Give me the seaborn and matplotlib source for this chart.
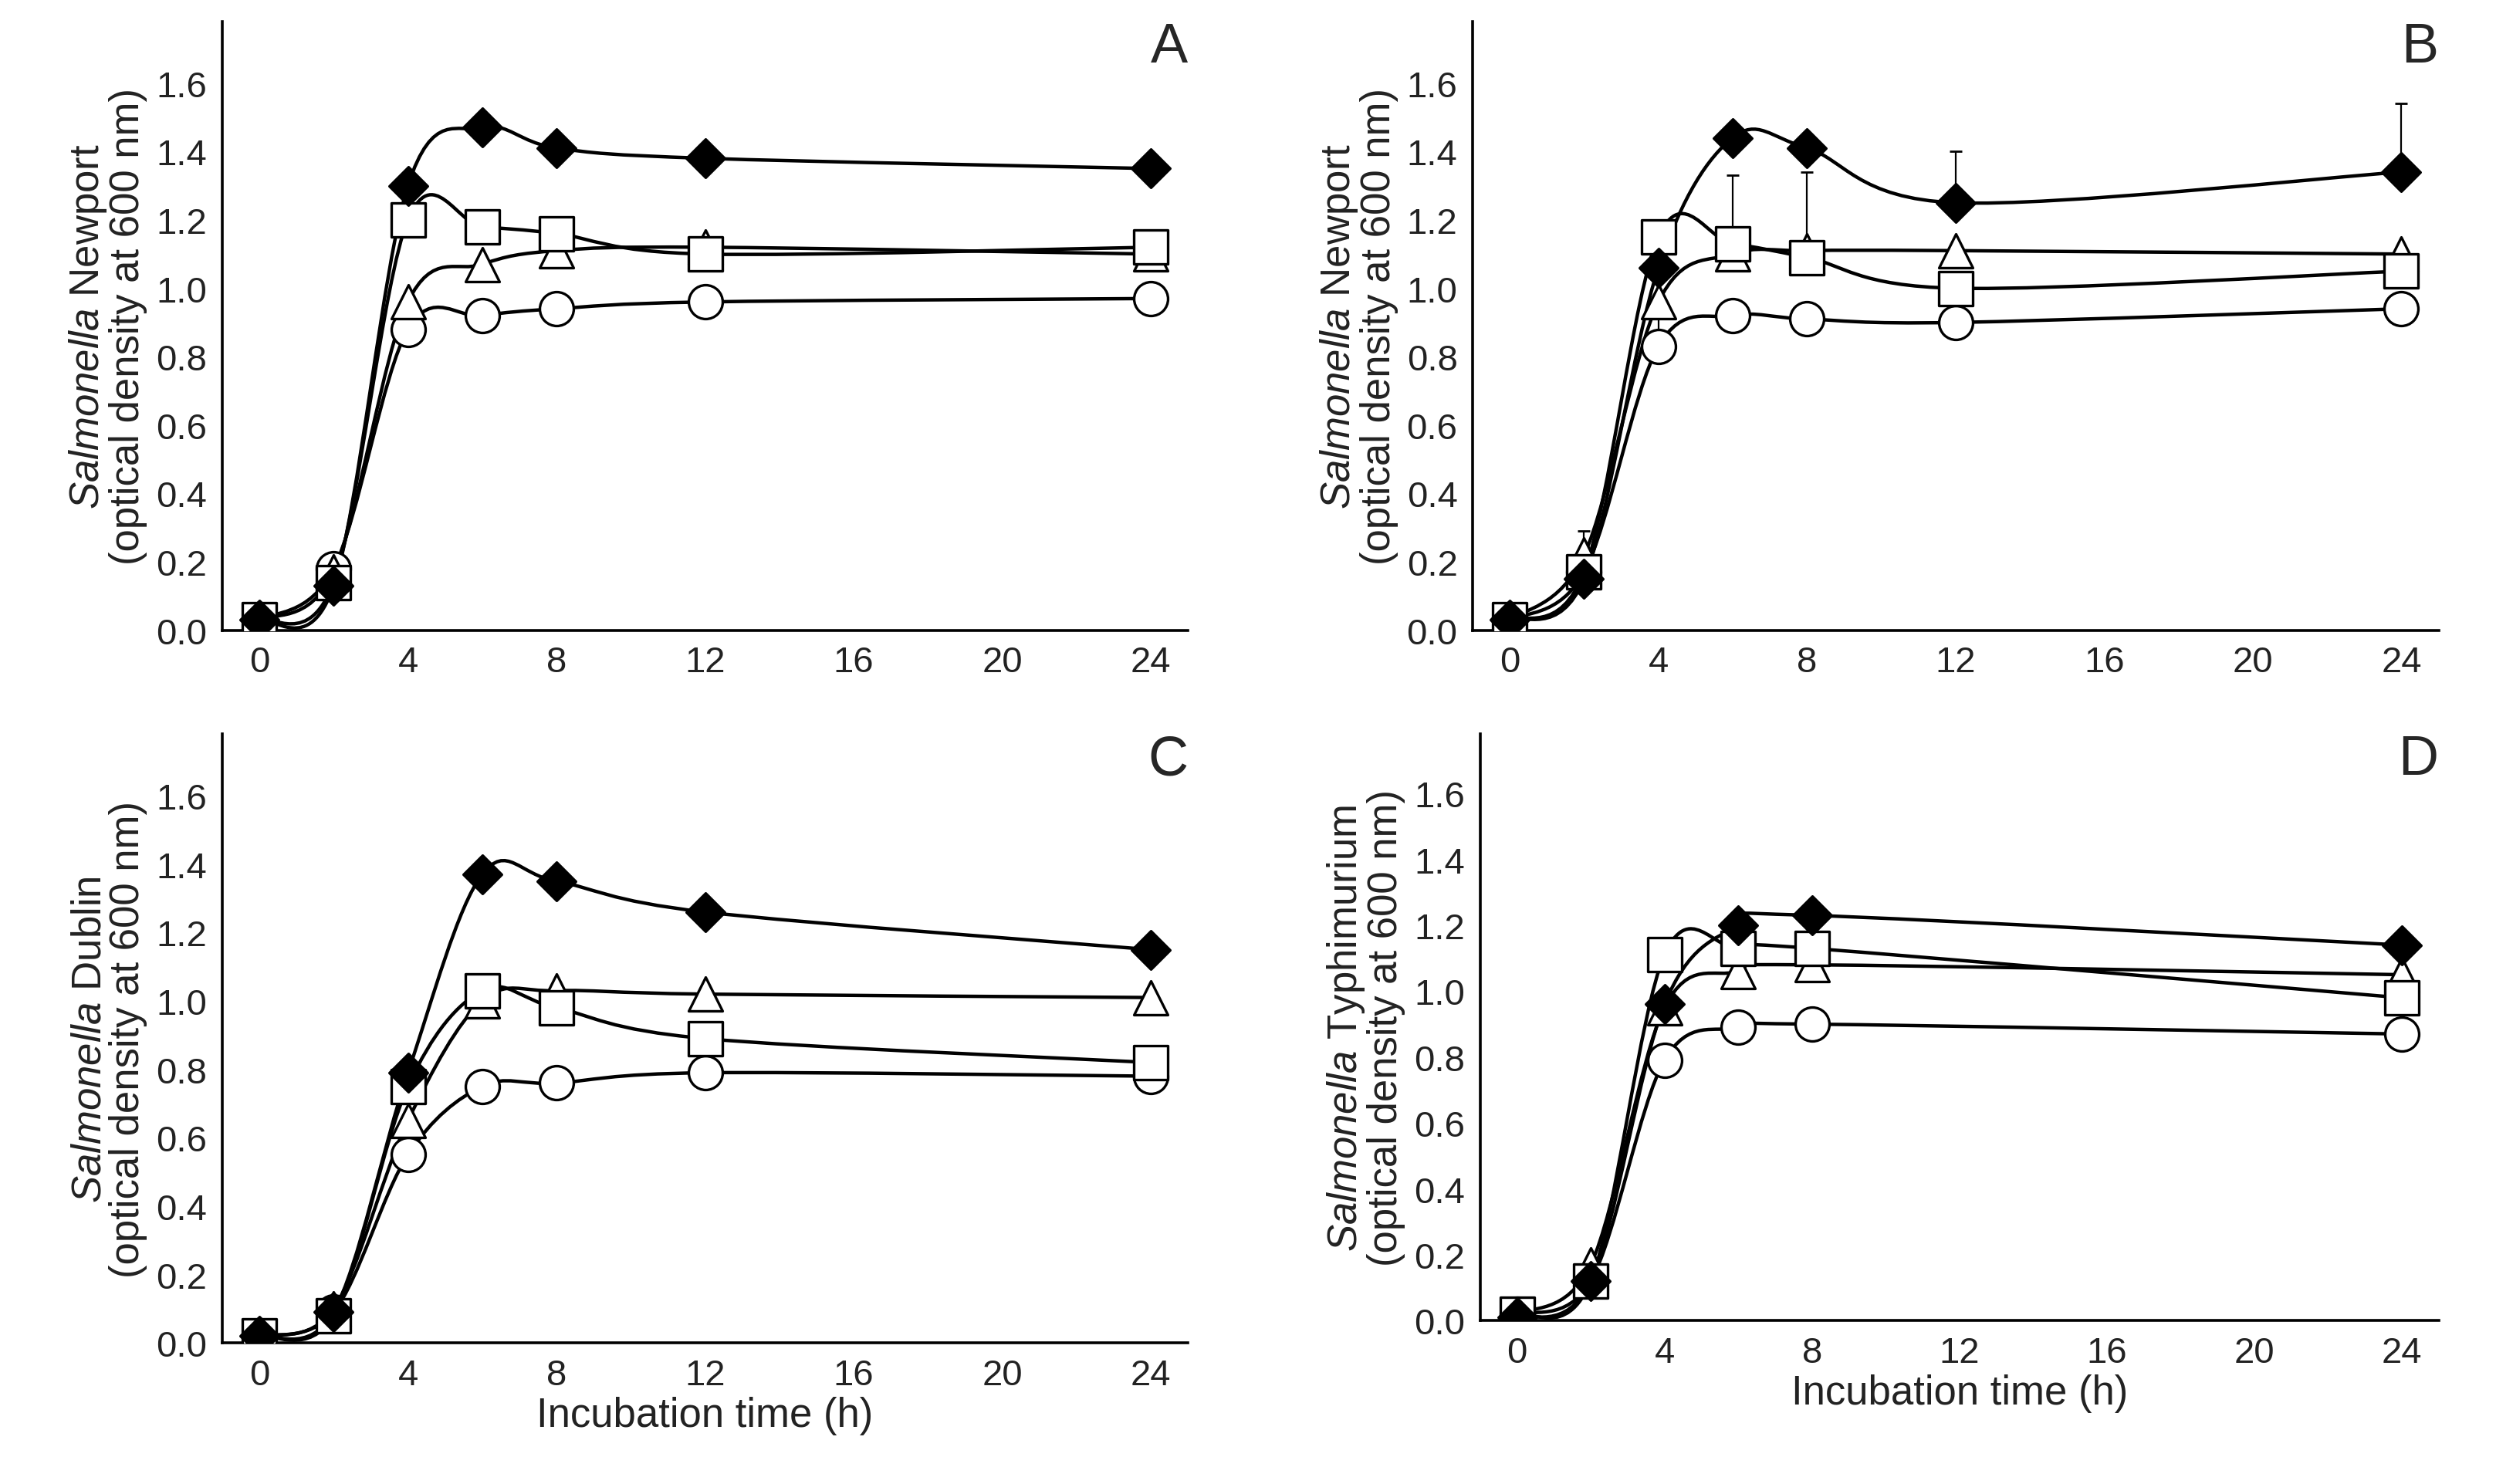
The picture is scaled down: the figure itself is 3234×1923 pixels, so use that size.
import numpy as np
import seaborn as sns
import matplotlib.pyplot as plt
from matplotlib.path import Path
from matplotlib.patches import PathPatch

sns.set_style('white')
plt.rcParams['font.family'] = ['Liberation Sans', 'DejaVu Sans']
plt.rcParams['mathtext.fontset'] = 'custom'
plt.rcParams['mathtext.it'] = 'Liberation Sans:italic'
plt.rcParams['mathtext.rm'] = 'Liberation Sans'

# data
t7 = [0, 2, 4, 6, 8, 12, 24]
t6 = [0, 2, 4, 6, 8, 24]
a_dia = [0.03, 0.13, 1.30, 1.47, 1.41, 1.38, 1.35]
a_sq = [0.03, 0.14, 1.20, 1.18, 1.16, 1.10, 1.12]
a_tri = [0.03, 0.17, 0.96, 1.07, 1.11, 1.12, 1.10]
a_cir = [0.03, 0.18, 0.88, 0.92, 0.94, 0.96, 0.97]
b_dia = [0.03, 0.15, 1.06, 1.44, 1.41, 1.25, 1.34]
b_sq = [0.03, 0.17, 1.15, 1.13, 1.09, 1.00, 1.05]
b_tri = [0.03, 0.22, 0.96, 1.10, 1.11, 1.11, 1.10]
b_cir = [0.03, 0.17, 0.83, 0.92, 0.91, 0.90, 0.94]
b_dia_err = [0, 0, 0, 0, 0, 0.15, 0.2]
b_sq_err = [0, 0, 0, 0.2, 0.25, 0, 0]
b_tri_err = [0, 0.07, 0, 0, 0, 0, 0]
b_cir_err = [0, 0, 0.1, 0, 0, 0, 0]
c_dia = [0.02, 0.09, 0.79, 1.37, 1.35, 1.26, 1.15]
c_sq = [0.02, 0.08, 0.75, 1.03, 0.98, 0.89, 0.82]
c_tri = [0.02, 0.10, 0.65, 1.00, 1.03, 1.02, 1.01]
c_cir = [0.02, 0.09, 0.55, 0.75, 0.76, 0.79, 0.78]
d_dia = [0.01, 0.12, 0.96, 1.20, 1.23, 1.14]
d_sq = [0.02, 0.12, 1.11, 1.13, 1.13, 0.98]
d_tri = [0.02, 0.17, 0.95, 1.06, 1.08, 1.05]
d_cir = [0.02, 0.12, 0.79, 0.89, 0.90, 0.87]

panels = [
    ('A', 'Newport', t7, [(a_cir, None), (a_tri, None), (a_sq, None), (a_dia, None)]),
    ('B', 'Newport', t7, [(b_cir, b_cir_err), (b_tri, b_tri_err), (b_sq, b_sq_err), (b_dia, b_dia_err)]),
    ('C', 'Dublin', t7, [(c_cir, None), (c_tri, None), (c_sq, None), (c_dia, None)]),
    ('D', 'Typhimurium', t6, [(d_cir, None), (d_tri, None), (d_sq, None), (d_dia, None)]),
]
styles = [('o', 'white'), ('^', 'white'), ('s', 'white'), ('D', 'black')]


def smooth_path(x, y):
    # Catmull-Rom style bezier through the points (Excel smoothed line look)
    x = np.asarray(x, float); y = np.asarray(y, float)
    verts = [(x[0], y[0])]; codes = [Path.MOVETO]
    n = len(x)
    for i in range(n - 1):
        i0, i3 = max(i - 1, 0), min(i + 2, n - 1)
        c1 = (x[i] + (x[i + 1] - x[i0]) / 6, y[i] + (y[i + 1] - y[i0]) / 6)
        c2 = (x[i + 1] - (x[i3] - x[i]) / 6, y[i + 1] - (y[i3] - y[i]) / 6)
        verts += [c1, c2, (x[i + 1], y[i + 1])]
        codes += [Path.CURVE4] * 3
    return Path(verts, codes)


fig = plt.figure(figsize=(16.17, 9.62), dpi=200)
boxes = [(0.089, 0.575, 0.387, 0.41), (0.590, 0.575, 0.387, 0.41),
         (0.089, 0.095, 0.387, 0.41), (0.593, 0.110, 0.384, 0.395)]
for (letter, strain, t, series), box in zip(panels, boxes):
    ax = fig.add_axes(box)
    for (vals, err), (m, fc) in zip(series, styles):
        ax.add_patch(PathPatch(smooth_path(t, vals), fill=False, lw=1.6, ec='black', zorder=2))
        if err is not None:
            ax.errorbar(t, vals, yerr=[[0] * len(t), err], fmt='none', ecolor='black',
                        elinewidth=0.8, capsize=3, zorder=1)
        ms = 160 if m == 'D' else 250
        sns.scatterplot(x=t, y=vals, marker=m, s=ms, color=fc, edgecolor='black',
                        linewidth=1.2, ax=ax, zorder=3, legend=False)
    ax.set_xlim(-1, 25)
    ax.set_ylim(0, 1.78)
    ax.set_xticks(range(0, 25, 4))
    ax.set_yticks(np.arange(0, 1.61, 0.2))
    ax.set_yticklabels([f'{v:.1f}' for v in np.arange(0, 1.61, 0.2)])
    ax.tick_params(labelsize=17, length=0, pad=7, labelcolor='#222222')
    for s in ['top', 'right']:
        ax.spines[s].set_visible(False)
    for s in ['left', 'bottom']:
        ax.spines[s].set_color('black'); ax.spines[s].set_linewidth(1.3)
    ax.set_ylabel(r'$\it{Salmonella}$ ' + strain + '\n(optical density at 600 nm)',
                  fontsize=19, linespacing=1.0, color='#222222')
    if letter in 'CD':
        ax.set_xlabel('Incubation time (h)', fontsize=19, labelpad=2, color='#222222')
    ax.text(1.0, 1.0, letter, transform=ax.transAxes, fontsize=26, ha='right', va='top')

fig.savefig('out.png', dpi=200)
